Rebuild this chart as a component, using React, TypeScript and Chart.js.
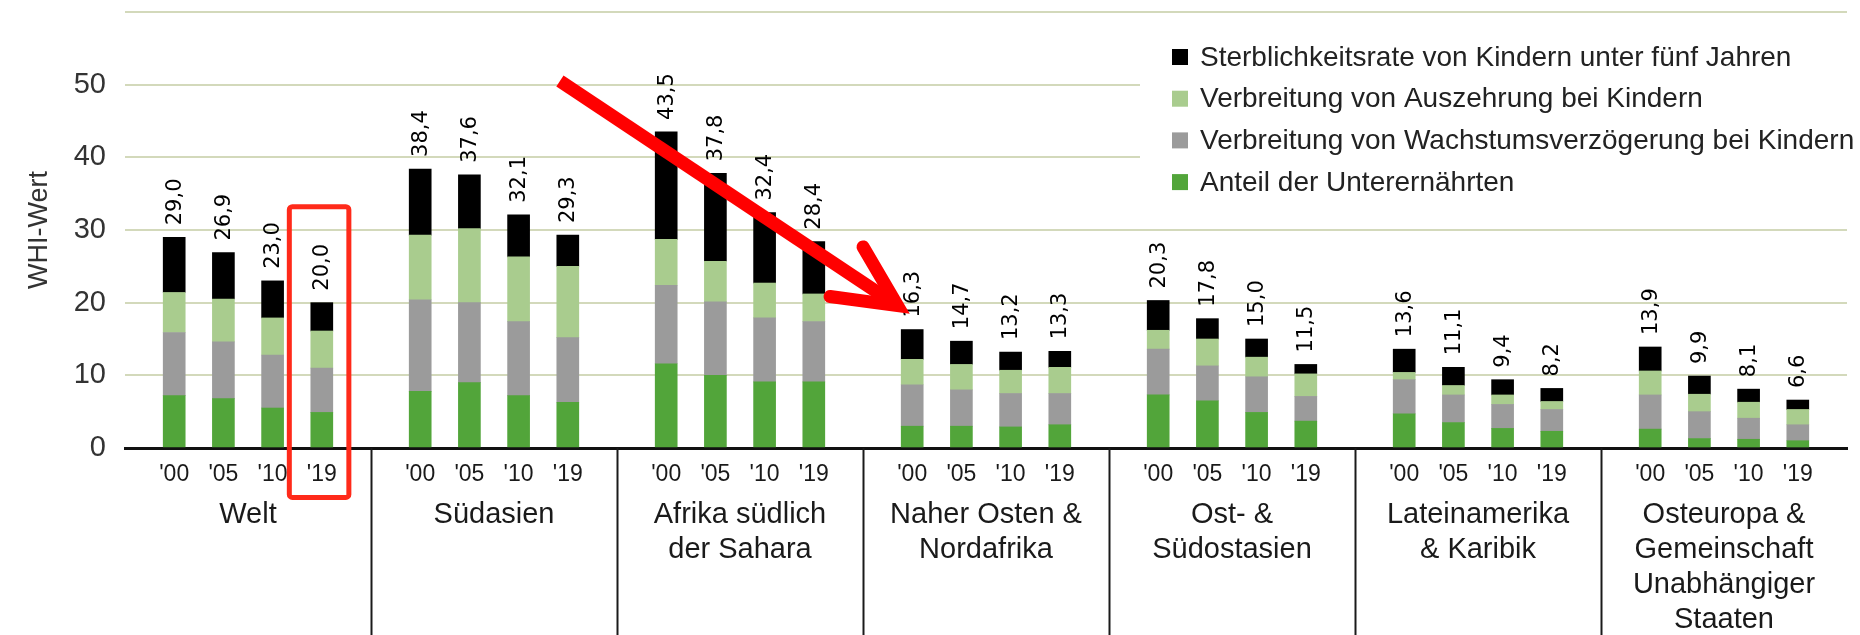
import React, { useEffect, useRef } from "react";
import { Chart, registerables } from "chart.js";

Chart.register(...registerables);

const FONT = "'Liberation Sans', Arial, sans-serif";
const VALUE_FONT = "'DejaVu Sans', sans-serif";

// Regions (group labels on the lower axis)
const regions: string[][] = [
  ["Welt"],
  ["Südasien"],
  ["Afrika südlich", "der Sahara"],
  ["Naher Osten &", "Nordafrika"],
  ["Ost- &", "Südostasien"],
  ["Lateinamerika", "& Karibik"],
  ["Osteuropa &", "Gemeinschaft", "Unabhängiger", "Staaten"],
];

// Years shown for each region
const years = ["'00", "'05", "'10", "'19"];

// Series values, per region in the order '00, '05, '10, '19
const unterernaehrte = [
  7.2, 6.8, 5.5, 4.9,
  7.8, 9.0, 7.2, 6.3,
  11.6, 10.0, 9.1, 9.1,
  3.0, 3.0, 2.9, 3.2,
  7.3, 6.5, 4.9, 3.7,
  4.7, 3.5, 2.7, 2.3,
  2.6, 1.3, 1.2, 1.0,
];
const wachstumsverzoegerung = [
  8.7, 7.8, 7.3, 6.1,
  12.6, 11.0, 10.2, 8.9,
  10.8, 10.1, 8.8, 8.3,
  5.7, 5.0, 4.6, 4.3,
  6.3, 4.8, 4.9, 3.4,
  4.7, 3.8, 3.3, 3.0,
  4.7, 3.7, 2.9, 2.2,
];
const auszehrung = [
  5.5, 5.9, 5.1, 5.1,
  8.9, 10.2, 8.9, 9.8,
  6.3, 5.6, 4.8, 3.8,
  3.5, 3.5, 3.2, 3.6,
  2.6, 3.7, 2.7, 3.1,
  1.0, 1.3, 1.3, 1.1,
  3.3, 2.4, 2.2, 2.1,
];
const sterblichkeit = [
  7.6, 6.4, 5.1, 3.9,
  9.1, 7.4, 5.8, 4.3,
  14.8, 12.1, 9.7, 7.2,
  4.1, 3.2, 2.5, 2.2,
  4.1, 2.8, 2.5, 1.3,
  3.2, 2.5, 2.1, 1.8,
  3.3, 2.5, 1.8, 1.3,
];

// Printed WHI values above the bars
const whiWerte = [
  29.0, 26.9, 23.0, 20.0,
  38.4, 37.6, 32.1, 29.3,
  43.5, 37.8, 32.4, 28.4,
  16.3, 14.7, 13.2, 13.3,
  20.3, 17.8, 15.0, 11.5,
  13.6, 11.1, 9.4, 8.2,
  13.9, 9.9, 8.1, 6.6,
];

const yTicks = [0, 10, 20, 30, 40, 50, 60];

const seriesNames = [
  "Anteil der Unterernährten",
  "Verbreitung von Wachstumsverzögerung bei Kindern",
  "Verbreitung von Auszehrung bei Kindern",
  "Sterblichkeitsrate von Kindern unter fünf Jahren",
];
const seriesColors = ["#52a53a", "#9b9b9b", "#a9cc8e", "#000000"];

// Build a category axis: one empty slot at every region border
const SLOTS = regions.length * (years.length + 1) + 1;
const slotOf = (i: number) => Math.floor(i / years.length) * (years.length + 1) + (i % years.length) + 1;
const axisLabels: string[] = Array.from({ length: SLOTS }, () => "");
for (let i = 0; i < whiWerte.length; i++) axisLabels[slotOf(i)] = years[i % years.length];
const expand = (arr: number[]) => {
  const out: (number | null)[] = Array.from({ length: SLOTS }, () => null);
  arr.forEach((v, i) => (out[slotOf(i)] = v));
  return out;
};

const fmt = (v: number) => v.toFixed(1).replace(".", ",");

const overlayPlugin = {
  id: "overlay",
  beforeDatasetsDraw(chart: any) {
    const { ctx } = chart;
    ctx.save();
    // legend on white panel
    const boxLeft = 1140;
    ctx.fillStyle = "#ffffff";
    ctx.fillRect(boxLeft, 26, chart.width - boxLeft, 180);
    const ds = [...chart.data.datasets].reverse();
    ds.forEach((d: any, i: number) => {
      const y = 57 + i * 41.7;
      ctx.fillStyle = d.backgroundColor;
      ctx.fillRect(1172, y - 8, 16, 16);
      ctx.fillStyle = "#222222";
      ctx.font = `28px ${FONT}`;
      ctx.textBaseline = "middle";
      ctx.textAlign = "left";
      ctx.fillText(d.label, 1200, y + 1);
    });
    ctx.restore();
  },
  afterDatasetsDraw(chart: any) {
    const { ctx } = chart;
    const meta = chart.getDatasetMeta(chart.data.datasets.length - 1);
    ctx.save();
    ctx.fillStyle = "#000000";
    ctx.font = `21px ${VALUE_FONT}`;
    ctx.textAlign = "left";
    ctx.textBaseline = "middle";
    whiWerte.forEach((v, i) => {
      const el = meta.data[slotOf(i)];
      if (!el) return;
      ctx.save();
      ctx.translate(el.x + 1, el.y - 12);
      ctx.rotate(-Math.PI / 2);
      ctx.fillText(fmt(v), 0, 0);
      ctx.restore();
    });
    ctx.restore();
  },
  afterDraw(chart: any) {
    const { ctx, chartArea } = chart;
    const x = chart.scales.x;
    const y = chart.scales.y;
    ctx.save();
    // region separators
    ctx.strokeStyle = "#1a1a1a";
    ctx.lineWidth = 2;
    for (let g = 1; g < regions.length; g++) {
      const px = Math.round(x.getPixelForValue(g * (years.length + 1))) + 0.5;
      ctx.beginPath();
      ctx.moveTo(px, chartArea.bottom);
      ctx.lineTo(px, chart.height);
      ctx.stroke();
    }
    // red frame around Welt '19
    const c = slotOf(3);
    const rl = x.getPixelForValue(c - 0.66);
    const rr = x.getPixelForValue(c + 0.55);
    const rt = y.getPixelForValue(33.2);
    const rb = y.getPixelForValue(-6.8);
    ctx.strokeStyle = "#ff2a1a";
    ctx.lineWidth = 5;
    ctx.lineJoin = "round";
    ctx.beginPath();
    ctx.roundRect(rl, rt, rr - rl, rb - rt, 3);
    ctx.stroke();
    // red arrow
    const tx = x.getPixelForValue(8.84), ty = y.getPixelForValue(50.5);
    const hx = x.getPixelForValue(15.7), hy = y.getPixelForValue(19.6);
    const ang = Math.atan2(hy - ty, hx - tx);
    ctx.strokeStyle = "#ff0000";
    ctx.lineWidth = 13;
    ctx.lineCap = "butt";
    ctx.beginPath();
    ctx.moveTo(tx, ty);
    ctx.lineTo(hx - 6 * Math.cos(ang), hy - 6 * Math.sin(ang));
    ctx.stroke();
    const back = ang + Math.PI;
    const armLen = 68;
    const spread = (26 * Math.PI) / 180;
    ctx.lineCap = "round";
    ctx.lineJoin = "miter";
    ctx.beginPath();
    ctx.moveTo(hx + armLen * Math.cos(back + spread), hy + armLen * Math.sin(back + spread));
    ctx.lineTo(hx, hy);
    ctx.lineTo(hx + armLen * Math.cos(back - spread), hy + armLen * Math.sin(back - spread));
    ctx.stroke();
    ctx.restore();
  },
};

export default function App() {
  const ref = useRef<HTMLCanvasElement>(null);
  useEffect(() => {
    document.body.style.margin = "0";
    const series = [unterernaehrte, wachstumsverzoegerung, auszehrung, sterblichkeit];
    const chart = new Chart(ref.current as HTMLCanvasElement, {
      type: "bar",
      data: {
        labels: axisLabels,
        datasets: series.map((s, i) => ({
          label: seriesNames[i],
          data: expand(s),
          backgroundColor: seriesColors[i],
          borderWidth: 0,
          barThickness: 22,
        })),
      },
      options: {
        responsive: false,
        animation: false,
        events: [],
        devicePixelRatio: 1,
        layout: { padding: { top: 12, left: 0, right: 0, bottom: 0 } },
        plugins: { legend: { display: false }, tooltip: { enabled: false } },
        scales: {
          x: {
            type: "category",
            stacked: true,
            offset: false,
            weight: 0,
            grid: { drawOnChartArea: false, drawTicks: false },
            border: { display: true, color: "#111111", width: 3 },
            ticks: {
              autoSkip: false,
              maxRotation: 0,
              minRotation: 0,
              padding: 13,
              color: "#1a1a1a",
              font: { size: 23, family: FONT },
            },
            afterFit: (s: any) => {
              s.height = 45;
            },
          },
          x2: {
            type: "category",
            position: "bottom",
            labels: regions as any,
            offset: true,
            weight: 1,
            grid: { display: false, drawOnChartArea: false, drawTicks: false },
            border: { display: false },
            ticks: {
              autoSkip: false,
              maxRotation: 0,
              minRotation: 0,
              padding: 4,
              color: "#1a1a1a",
              font: { size: 29, family: FONT, lineHeight: 1.21 },
            },
            afterFit: (s: any) => {
              s.height = 142;
            },
          },
          y: {
            stacked: true,
            min: yTicks[0],
            max: yTicks[yTicks.length - 1],
            afterBuildTicks: (s: any) => {
              s.ticks = yTicks.map((v) => ({ value: v }));
            },
            ticks: {
              padding: 8,
              color: "#333333",
              font: (c: any) =>
                c.tick && c.tick.value === yTicks[yTicks.length - 1]
                  ? { size: 1, family: FONT }
                  : { size: 29, family: FONT },
              callback: (v: any) => (v === yTicks[yTicks.length - 1] ? "" : String(v)),
            },
            grid: {
              color: "#d3d9bb",
              lineWidth: 2,
              drawTicks: true,
              tickLength: 11,
              tickColor: "rgba(0,0,0,0)",
            },
            border: { display: false },
            title: {
              display: true,
              text: "WHI-Wert",
              color: "#333333",
              font: { size: 27, family: FONT },
              padding: { top: 23, bottom: 0 },
            },
            afterFit: (s: any) => {
              s.width = 125;
            },
          },
        },
      } as any,
      plugins: [overlayPlugin],
    });
    return () => chart.destroy();
  }, []);
  return (
    <div style={{ width: 1860, height: 635, background: "#ffffff" }}>
      <canvas ref={ref} width={1860} height={635} style={{ display: "block" }} />
    </div>
  );
}
